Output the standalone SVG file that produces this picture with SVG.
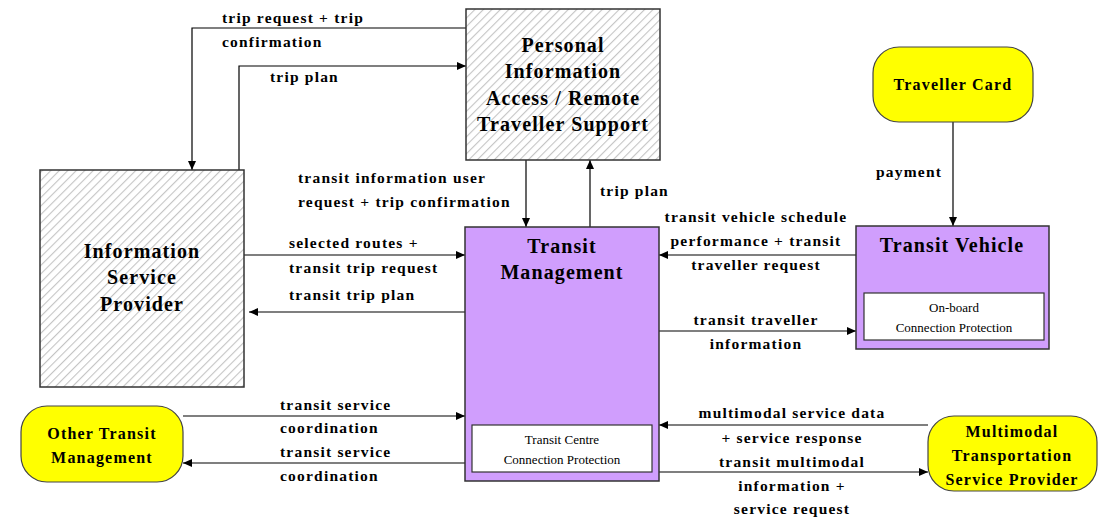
<svg xmlns="http://www.w3.org/2000/svg" width="1099" height="518" viewBox="0 0 1099 518">
<defs>
<pattern id="hatch" patternUnits="userSpaceOnUse" width="6" height="6" patternTransform="rotate(45)">
<rect width="6" height="6" fill="#ffffff"/>
<line x1="0" y1="0" x2="0" y2="6" stroke="#c4c4c4" stroke-width="2.2"/>
</pattern>
<marker id="arr" markerWidth="10" markerHeight="10" refX="9" refY="5" orient="auto" markerUnits="userSpaceOnUse">
<path d="M0,1 L9,5 L0,9 Z" fill="#000"/>
</marker>
<style>
.hbox{fill:url(#hatch);stroke:#333;stroke-width:1.5}
.pbox{fill:#d09efd;stroke:#333;stroke-width:1.5}
.ybox{fill:#ffff00;stroke:#444;stroke-width:1.2}
.wbox{fill:#ffffff;stroke:#333;stroke-width:1.2}
.title{font-family:"Liberation Serif","Times New Roman",serif;font-weight:bold;font-size:20px;letter-spacing:1.1px;text-anchor:middle;fill:#000}
.ytitle{font-family:"Liberation Serif","Times New Roman",serif;font-weight:bold;font-size:16px;letter-spacing:1.2px;text-anchor:middle;fill:#000}
.small{font-family:"Liberation Serif","Times New Roman",serif;font-size:13px;text-anchor:middle;fill:#000}
.lbl{font-family:"Liberation Serif","Times New Roman",serif;font-weight:bold;font-size:15.5px;letter-spacing:1.2px;fill:#000}
.c{text-anchor:middle}
.conn{fill:none;stroke:#000;stroke-width:1.2;marker-end:url(#arr)}
</style>
</defs>
<rect width="1099" height="518" fill="#ffffff"/>

<g id="connectors">
<path class="conn" d="M466,28 H192 V170"/>
<path class="conn" d="M239,170 V66 H466"/>
<path class="conn" d="M526,160 V227"/>
<path class="conn" d="M590,227 V160"/>
<path class="conn" d="M244,255 H465"/>
<path class="conn" d="M465,312 H249"/>
<path class="conn" d="M856,255 H659"/>
<path class="conn" d="M659,331 H856"/>
<path class="conn" d="M953,122 V226"/>
<path class="conn" d="M183,416 H465"/>
<path class="conn" d="M465,463 H183"/>
<path class="conn" d="M928,425 H659"/>
<path class="conn" d="M659,472 H928"/>
<text class="lbl" x="222" y="23">trip request + trip</text>
<text class="lbl" x="222" y="47">confirmation</text>
<text class="lbl" x="270" y="82">trip plan</text>
<text class="lbl" x="298" y="183">transit information user</text>
<text class="lbl" x="298" y="207">request + trip confirmation</text>
<text class="lbl" x="600" y="196">trip plan</text>
<text class="lbl" x="289" y="248">selected routes +</text>
<text class="lbl" x="289" y="273">transit trip request</text>
<text class="lbl" x="289" y="300">transit trip plan</text>
<text class="lbl c" x="756" y="222">transit vehicle schedule</text>
<text class="lbl c" x="756" y="246">performance + transit</text>
<text class="lbl c" x="756" y="270">traveller request</text>
<text class="lbl c" x="756" y="325">transit traveller</text>
<text class="lbl c" x="756" y="349">information</text>
<text class="lbl" x="876" y="177">payment</text>
<text class="lbl" x="280" y="410">transit service</text>
<text class="lbl" x="280" y="433">coordination</text>
<text class="lbl" x="280" y="457">transit service</text>
<text class="lbl" x="280" y="481">coordination</text>
<text class="lbl c" x="792" y="418">multimodal service data</text>
<text class="lbl c" x="792" y="443">+ service response</text>
<text class="lbl c" x="792" y="467">transit multimodal</text>
<text class="lbl c" x="792" y="491">information +</text>
<text class="lbl c" x="792" y="514">service request</text>
</g>

<g id="pia">
<rect class="hbox" x="466" y="9" width="194" height="151"/>
<text class="title" x="563" y="52">Personal</text>
<text class="title" x="563" y="78">Information</text>
<text class="title" x="563" y="105">Access / Remote</text>
<text class="title" x="563" y="131">Traveller Support</text>
</g>

<g id="isp">
<rect class="hbox" x="40" y="170" width="204" height="217"/>
<text class="title" x="142" y="258">Information</text>
<text class="title" x="142" y="284">Service</text>
<text class="title" x="142" y="311">Provider</text>
</g>

<g id="tm">
<rect class="pbox" x="465" y="227" width="194" height="254"/>
<text class="title" x="562" y="253">Transit</text>
<text class="title" x="562" y="279">Management</text>
<rect class="wbox" x="472" y="425" width="180" height="47"/>
<text class="small" x="562" y="444">Transit Centre</text>
<text class="small" x="562" y="464">Connection Protection</text>
</g>

<g id="tv">
<rect class="pbox" x="856" y="226" width="193" height="123"/>
<text class="title" x="952" y="252">Transit  Vehicle</text>
<rect class="wbox" x="864" y="293" width="180" height="47"/>
<text class="small" x="954" y="312">On-board</text>
<text class="small" x="954" y="332">Connection Protection</text>
</g>

<g id="card">
<rect class="ybox" x="873" y="47" width="160" height="75" rx="26" ry="26"/>
<text class="ytitle" x="953" y="90">Traveller Card</text>
</g>

<g id="otm">
<rect class="ybox" x="21" y="406" width="162" height="76" rx="26" ry="26"/>
<text class="ytitle" x="102" y="439">Other Transit</text>
<text class="ytitle" x="102" y="463">Management</text>
</g>

<g id="mtsp">
<rect class="ybox" x="928" y="416" width="169" height="75" rx="26" ry="26"/>
<text class="ytitle" x="1012" y="437">Multimodal</text>
<text class="ytitle" x="1012" y="461">Transportation</text>
<text class="ytitle" x="1012" y="485">Service Provider</text>
</g>
</svg>
